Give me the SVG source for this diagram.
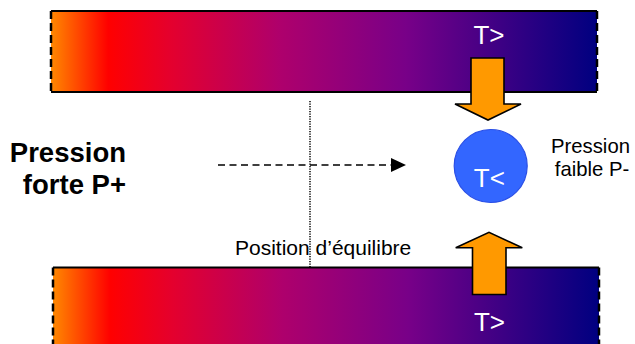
<svg xmlns="http://www.w3.org/2000/svg" width="635" height="344" viewBox="0 0 635 344">
<style>
.edge{stroke:#000;stroke-width:2;fill:none}
.side{stroke:#000;stroke-width:2.5;stroke-dasharray:8 4;fill:none}
.big{font-family:"Liberation Sans",Arial,sans-serif;font-weight:bold;font-size:27.5px;fill:#000}
.small{font-family:"Liberation Sans",Arial,sans-serif;font-size:20.3px;fill:#000}
.temp{font-family:"Liberation Sans",Arial,sans-serif;font-size:26px;fill:#fff}
.fat{fill:#FF9900;stroke:#000;stroke-width:1.6;stroke-linejoin:miter}
</style>
<defs>
<linearGradient id="heat" x1="0" y1="0" x2="1" y2="0">
<stop offset="0" stop-color="#FF8800"/>
<stop offset="0.105" stop-color="#FF0000"/>
<stop offset="0.22" stop-color="#E4002E"/>
<stop offset="0.42" stop-color="#AE006C"/>
<stop offset="0.65" stop-color="#780088"/>
<stop offset="1" stop-color="#000080"/>
</linearGradient>
</defs>
<g id="top-bar">
<rect x="51" y="11" width="546" height="81" fill="url(#heat)"/>
<line class="edge" x1="51" y1="11" x2="597" y2="11"/>
<line class="edge" x1="51" y1="92" x2="597" y2="92"/>
<line class="side" x1="51" y1="11" x2="51" y2="92"/>
<line class="side" x1="597" y1="11" x2="597" y2="92"/>
<text class="temp" x="489" y="43.5" text-anchor="middle">T&gt;</text>
</g>
<g id="bottom-bar">
<rect x="53" y="267.5" width="546" height="80" fill="url(#heat)"/>
<line class="edge" x1="53" y1="267.5" x2="599" y2="267.5"/>
<line class="side" x1="53" y1="267.5" x2="53" y2="344"/>
<line class="side" x1="599" y1="267.5" x2="599" y2="344"/>
<text class="temp" x="489.5" y="331" text-anchor="middle">T&gt;</text>
</g>
<g id="arrow-down">
<polygon class="fat" points="471,58 504,58 504,104 521,104 488,120 455,104 471,104"/>
</g>
<g id="arrow-up">
<polygon class="fat" points="472.5,294.5 506,294.5 506,247.7 522.3,247.7 489,232.3 455.7,247.7 472.5,247.7"/>
</g>
<g id="ball">
<circle cx="490.7" cy="166" r="36.5" fill="#3366FF" stroke="#2A4FE6" stroke-width="1.2"/>
<text class="temp" x="489.3" y="186.7" text-anchor="middle">T&lt;</text>
</g>
<g id="label-high">
<text class="big" x="126" y="162" text-anchor="end">Pression</text>
<text class="big" x="126" y="194" text-anchor="end">forte P+</text>
</g>
<g id="label-low">
<text class="small" x="590.5" y="153.3" text-anchor="middle">Pression</text>
<text class="small" x="592" y="176" text-anchor="middle">faible P-</text>
</g>
<g id="label-eq">
<text class="small" x="235" y="255" style="font-size:21px">Position d’équilibre</text>
</g>
<g id="connectors">
<line x1="310" y1="101" x2="310" y2="267" stroke="#000" stroke-width="1.5" stroke-dasharray="1.2 1.3"/>
<line x1="218" y1="165" x2="392" y2="165" stroke="#000" stroke-width="1.6" stroke-dasharray="7 4.5"/>
<polygon points="391,158 406,165 391,172" fill="#000"/>
</g>
</svg>
